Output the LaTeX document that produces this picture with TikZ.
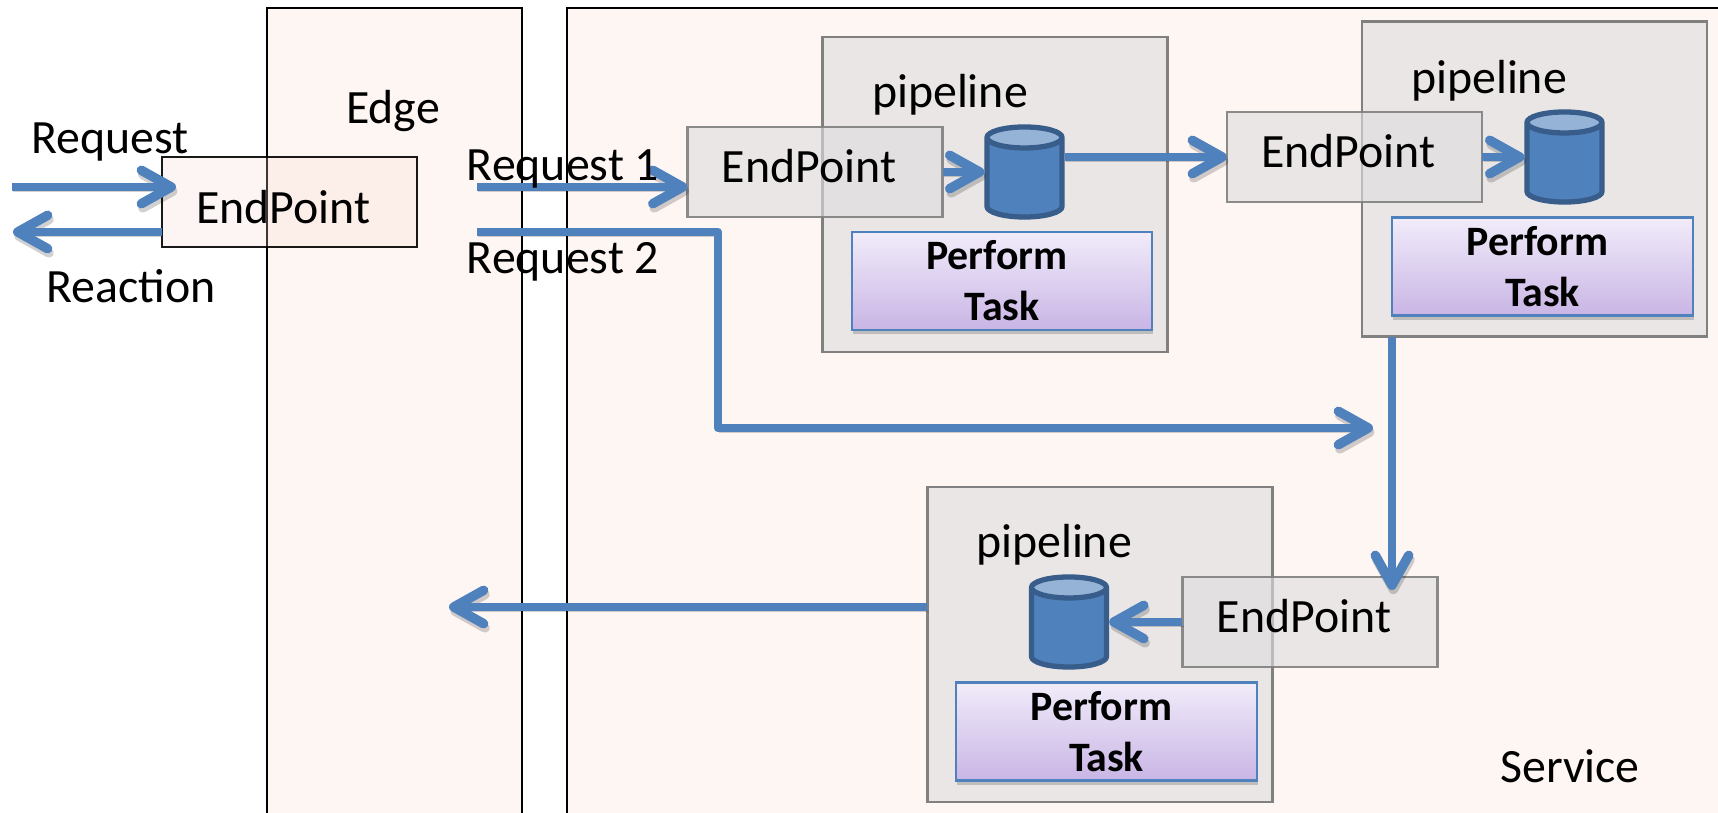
\documentclass[tikz,border=0pt]{standalone}
\usepackage{fontspec}
\setmainfont{Carlito}
\usetikzlibrary{positioning, arrows.meta, shapes.geometric, shadows, calc}

\definecolor{zonepink}{HTML}{FEF6F3}
\definecolor{zonedark}{HTML}{F8D9CE}
\definecolor{boxgray}{HTML}{DEDEDE}
\definecolor{boxline}{HTML}{808080}
\definecolor{flowblue}{HTML}{4F81BD}
\definecolor{drumline}{HTML}{385D8A}
\definecolor{drumtop}{HTML}{95B3D7}
\definecolor{taskhi}{HTML}{F1ECFA}
\definecolor{tasklo}{HTML}{C9B5E5}

\tikzset{
    txt/.style={font=\fontsize{13.6}{16}\selectfont, anchor=base, inner sep=0pt},
    zone/.style={draw=black, line width=.5pt, fill=zonepink, inner sep=0pt, outer sep=0pt},
    pipebox/.style={draw=boxline, line width=.75pt, fill=boxgray, fill opacity=.63,
        minimum width=3.45cm, minimum height=3.15cm, inner sep=0pt, outer sep=0pt},
    endbox/.style={pipebox, draw opacity=.9, text opacity=1, minimum width=2.55cm, minimum height=.9cm,
        font=\fontsize{13.6}{16}\selectfont, text depth=3.4pt, execute at end node={\hspace*{3.4pt}}},
    edgebox/.style={endbox, draw=black, line width=.5pt, fill=zonedark, fill opacity=.25, text height=12pt, text depth=0pt},
    taskbox/.style={draw=flowblue, line width=.6pt, top color=taskhi, bottom color=tasklo,
        minimum width=3cm, minimum height=.98cm, inner sep=0pt, outer sep=0pt, align=center,
        font=\fontsize{11.9}{14.5}\selectfont\bfseries,
        drop shadow={shadow xshift=.3pt, shadow yshift=-1.2pt, opacity=.4}},
    drum/.style={cylinder, shape border rotate=90, aspect=.28, draw=drumline, line width=1.5pt,
        cylinder uses custom fill, cylinder body fill=flowblue, cylinder end fill=drumtop,
        anchor=shape center, minimum height=.9cm, inner xsep=.375cm, inner ysep=0pt, outer sep=.75pt},
    flow/.style={draw=flowblue, line width=2.4pt, line join=round,
        -{Straight Barb[length=8.5pt,width=9.5pt,round,line width=2.7pt]},
        preaction={draw=black, opacity=.18, transform canvas={xshift=.4pt, yshift=-1.2pt}}}
}

\begin{document}
\begin{tikzpicture}[x=.01cm, y=-.01cm]

    \path[use as bounding box, clip] (0,0) rectangle (1718,813);

    % ZONES
    \node[zone, minimum width=2.55cm, minimum height=8.92cm] (edge) at (394.5,454) {};
    \node[zone, minimum width=12.33cm, minimum height=8.92cm] (service) at (1183.5,454) {};
    \node[txt] (edgeName) at (393,124) {Edge};
    \node[txt] (serviceName) at (1570,783) {Service};

    % PIPELINES
    \node[pipebox] (pipeA) at (995,194.5) {};
    \node[pipebox] (pipeB) at (1534.5,179) {};
    \node[pipebox] (pipeC) at (1100,644.5) {};
    \node[txt] (pipeNameA) at (950,108) {pipeline};
    \node[txt] (pipeNameB) at (1489,94) {pipeline};
    \node[txt] (pipeNameC) at (1054,558) {pipeline};

    % TASKS
    \node[taskbox] (taskA) at (1002,281) {Perform\hspace*{2.8pt}\\Task};
    \node[taskbox] (taskB) at (1542.5,266.5) {Perform\hspace*{2.8pt}\\Task};
    \node[taskbox] (taskC) at (1106.5,731.5) {Perform\hspace*{2.8pt}\\Task};

    % STORES
    \node[drum] (drumA) at (1024.5,172) {};
    \node[drum] (drumB) at (1564.5,157) {};
    \node[drum] (drumC) at (1069,622) {};

    % ENDPOINTS
    \node[edgebox] (epEdge) at (289.5,202) {EndPoint};
    \node[endbox] (epA) at (815,172) {EndPoint};
    \node[endbox] (epB) at (1354.5,157) {EndPoint};
    \node[endbox] (epC) at (1310,622) {EndPoint};

    % FREE ENDS
    \coordinate (inStart) at (12,187);
    \coordinate (inEnd) at (176,187);
    \coordinate (outEnd) at (13,232);
    \coordinate (reqOne) at (477,187);
    \coordinate (reqTwo) at (477,232);
    \coordinate (bendA) at (718,232);
    \coordinate (bendB) at (718,428);
    \coordinate (mergeEnd) at (1373,428);
    \coordinate (downEnd) at (1392,590);
    \coordinate (backEnd) at (449,607);

    % ARROWS
    \draw[flow] (inStart) -- (inEnd);
    \draw[flow] (epEdge.west |- outEnd) -- (outEnd);
    \draw[flow] (reqOne) -- (epA.west |- reqOne);
    \draw[flow] (reqTwo) -- (bendA) -- (bendB) -- (mergeEnd);
    \draw[flow] (epA.east) -- (drumA.west |- epA.east);
    \draw[flow] (drumA.east |- epB.west) -- (epB.west);
    \draw[flow] (epB.east) -- (drumB.west |- epB.east);
    \draw[flow] (downEnd |- pipeB.south) -- (downEnd);
    \draw[flow] (epC.west) -- (drumC.east |- epC.west);
    \draw[flow] (pipeC.west |- backEnd) -- (backEnd);

    % LABELS
    \node[txt] (reqIn) at (110,154) {Request};
    \node[txt] (reactOut) at (131,303) {Reaction};
    \node[txt] (reqOneName) at (563,181) {Request 1};
    \node[txt] (reqTwoName) at (563,274) {Request 2};

\end{tikzpicture}
\end{document}
